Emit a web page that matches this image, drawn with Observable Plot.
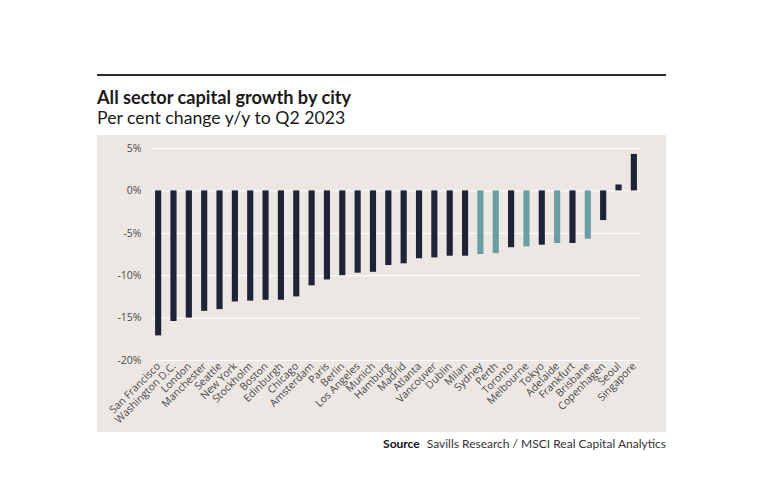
<!DOCTYPE html>
<html>
<head>
<meta charset="utf-8">
<script src="https://cdn.jsdelivr.net/npm/d3@7"></script>
<script src="https://cdn.jsdelivr.net/npm/@observablehq/plot@0.6"></script>
<style>
  html, body { margin: 0; padding: 0; background: #ffffff; }
  body { width: 780px; height: 500px; position: relative; font-family: Lato, "Open Sans", sans-serif; color: #1d1d1f; }
  #rule { position: absolute; left: 97px; top: 74px; width: 569px; height: 2px; background: #2a2a2a; }
  #title { position: absolute; left: 97px; top: 86px; font-size: 18.2px; font-weight: 700; color: #1a1a1a; }
  #subtitle { position: absolute; left: 97px; top: 107px; font-size: 17.7px; font-weight: 400; color: #1a1a1a; }
  #chart { position: absolute; left: 97px; top: 135px; }
  #source { position: absolute; right: 114px; top: 436px; font-size: 12px; color: #333; }
  #source b { font-weight: 700; color: #111; margin-right: 4px; }
</style>
</head>
<body>
<div id="rule"></div>
<div id="title">All sector capital growth by city</div>
<div id="subtitle">Per cent change y/y to Q2 2023</div>
<div id="chart"></div>
<div id="source"><b>Source</b> Savills Research / MSCI Real Capital Analytics</div>
<script>
const cities = ["San Francisco","Washington D.C.","London","Manchester","Seattle","New York","Stockholm","Boston","Edinburgh","Chicago","Amsterdam","Paris","Berlin","Los Angeles","Munich","Hamburg","Madrid","Atlanta","Vancouver","Dublin","Milan","Sydney","Perth","Toronto","Melbourne","Tokyo","Adelaide","Frankfurt","Brisbane","Copenhagen","Seoul","Singapore"];
const values = [-17.1,-15.4,-15.0,-14.2,-14.0,-13.1,-13.0,-12.9,-12.9,-12.5,-11.2,-10.5,-10.0,-9.7,-9.6,-8.8,-8.6,-8.0,-7.9,-7.7,-7.7,-7.5,-7.4,-6.7,-6.6,-6.4,-6.2,-6.2,-5.7,-3.5,0.7,4.3];
const australian = ["Sydney","Perth","Melbourne","Adelaide","Brisbane"];
const yTicks = [5, 0, -5, -10, -15, -20];

const data = cities.map((c, i) => ({city: c, value: values[i], group: australian.includes(c) ? "Australia" : "Other"}));

const chart = Plot.plot({
  width: 569,
  height: 297,
  marginLeft: 55,
  marginRight: 26,
  marginTop: 13,
  marginBottom: 72,
  style: {background: "#ede7e3", fontFamily: "'Open Sans', Lato, sans-serif", fontSize: "10.5px", color: "#4a4a4a"},
  x: {domain: cities, paddingInner: 0.6, paddingOuter: 0.2, round: false, label: null, tickSize: 0, tickPadding: 4, tickRotate: -45},
  y: {domain: [-20, 5], ticks: yTicks, tickFormat: d => d + "%", label: null, tickSize: 0, tickPadding: 11},
  color: {domain: ["Other", "Australia"], range: ["#1f2337", "#6a9ea3"]},
  marks: [
    Plot.ruleY(yTicks, {stroke: "#ffffff", strokeWidth: 1}),
    Plot.barY(data, {x: "city", y: "value", fill: "group"})
  ]
});
document.getElementById("chart").appendChild(chart);
</script>
</body>
</html>
